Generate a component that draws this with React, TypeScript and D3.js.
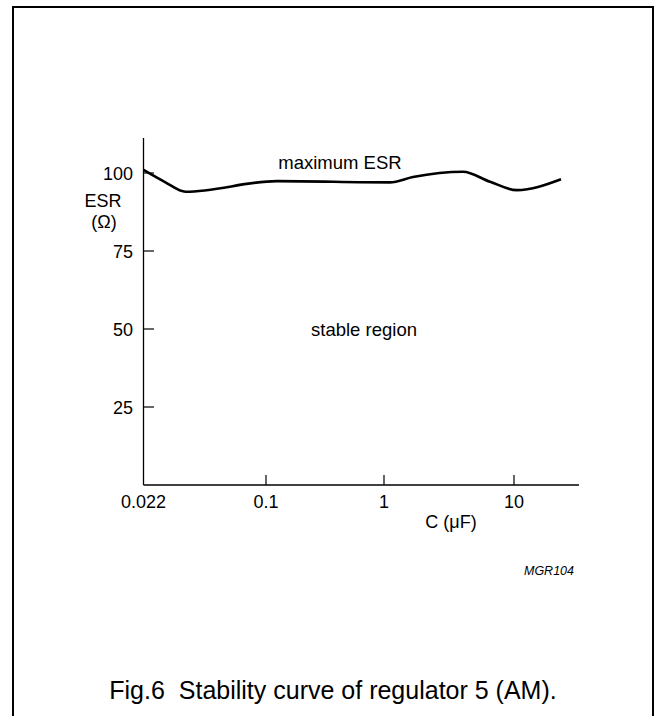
import React from "react";
import * as d3 from "d3";

const capValues = [0.022, 0.0287, 0.037, 0.124, 1.11, 1.67, 4.05, 6.54, 10.5, 23];
const esrValues = [101, 97.1, 94.0, 97.4, 97.0, 98.7, 100.4, 97.2, 94.5, 98.0];
const xTickValues = [0.022, 0.1, 1, 10];
const xTickLabels = ["0.022", "0.1", "1", "10"];
const yTickValues = [25, 50, 75, 100];
const yTickLabels = ["25", "50", "75", "100"];

const W = 655;
const H = 716;
const FONT = "'Liberation Sans', Arial, sans-serif";

export default function App() {
  // schematic (non-uniform) log axis as drawn in the datasheet
  const x = d3
    .scaleLog()
    .domain([0.022, 0.1, 1, 10, 100])
    .range([143.5, 266, 384, 514, 644]);
  const y = d3.scaleLinear().domain([0, 100]).range([485, 173]);
  const xEnd = 579;
  const yTop = 138;

  const pts = capValues.map((c, i) => [x(c), y(esrValues[i])] as [number, number]);
  const line = d3.line().curve(d3.curveMonotoneX)(pts) || "";

  return (
    <svg
      width={W}
      height={H}
      style={{ position: "absolute", left: 0, top: 0, background: "#fff" }}
      fontFamily={FONT}
    >
      <rect x={0} y={0} width={W} height={H} fill="#fff" />
      {/* frame */}
      <path d={`M13,${H} L13,7 L653,7 L653,${H}`} fill="none" stroke="#000" strokeWidth={2} />

      {/* axes */}
      <line x1={143.5} y1={yTop} x2={143.5} y2={y(0)} stroke="#000" strokeWidth={1.3} />
      <line x1={143.5} y1={y(0)} x2={xEnd} y2={y(0)} stroke="#000" strokeWidth={1.3} />

      {yTickValues.map((v, i) => (
        <g key={"y" + v}>
          <line x1={143.5} x2={154} y1={y(v)} y2={y(v)} stroke="#000" strokeWidth={1.2} />
          <text x={133} y={y(v) + 6.5} fontSize={18} textAnchor="end">
            {yTickLabels[i]}
          </text>
        </g>
      ))}

      {xTickValues.map((v, i) => (
        <g key={"x" + v}>
          {i > 0 && (
            <line x1={x(v)} x2={x(v)} y1={y(0)} y2={y(0) - 10} stroke="#000" strokeWidth={1.2} />
          )}
          <text x={x(v)} y={508} fontSize={18} textAnchor="middle">
            {xTickLabels[i]}
          </text>
        </g>
      ))}

      <text x={103} y={207} fontSize={18} textAnchor="middle">ESR</text>
      <text x={104} y={228} fontSize={18} textAnchor="middle">(Ω)</text>
      <text x={451} y={528} fontSize={18} textAnchor="middle">C (μF)</text>
      <text x={549} y={575} fontSize={12.5} fontStyle="italic" textAnchor="middle">MGR104</text>

      <path d={line} fill="none" stroke="#000" strokeWidth={2.6} strokeLinejoin="round" />

      <text x={340} y={169} fontSize={18.5} textAnchor="middle">maximum ESR</text>
      <text x={364} y={336} fontSize={18.5} textAnchor="middle">stable region</text>

      <text x={333} y={699} fontSize={25} textAnchor="middle">
        Fig.6{"\u00a0\u00a0"}Stability curve of regulator 5 (AM).
      </text>
    </svg>
  );
}
